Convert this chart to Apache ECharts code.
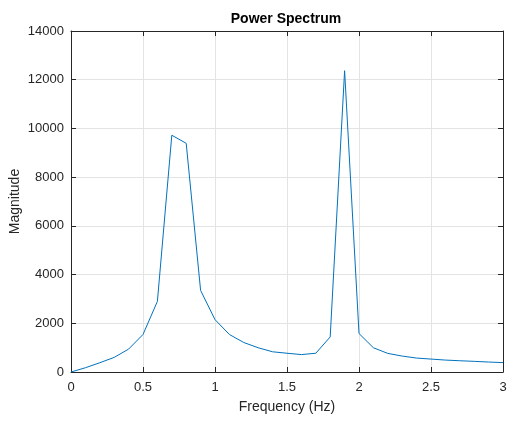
<!DOCTYPE html>
<html>
<head>
<meta charset="utf-8">
<script src="https://cdn.jsdelivr.net/npm/echarts@6/dist/echarts.min.js"></script>
<style>
html,body{margin:0;padding:0;background:#fff;}
#chart{width:531px;height:426px;}
</style>
</head>
<body>
<div id="chart"></div>
<script>
const frequency = [0, 0.1, 0.2, 0.3, 0.4, 0.5, 0.6, 0.7, 0.8, 0.9, 1.0, 1.1, 1.2, 1.3, 1.4, 1.5, 1.6, 1.7, 1.8, 1.9, 2.0, 2.1, 2.2, 2.3, 2.4, 2.5, 2.6, 2.7, 2.8, 2.9, 3.0];
const magnitude = [0, 175, 380, 600, 940, 1540, 2900, 9720, 9390, 3350, 2150, 1540, 1210, 995, 830, 770, 715, 770, 1440, 12370, 1580, 995, 764, 654, 572, 531, 490, 462, 437, 409, 385];
const xTicks = [0, 0.5, 1, 1.5, 2, 2.5, 3];
const yTicks = [0, 2000, 4000, 6000, 8000, 10000, 12000, 14000];

const FONT = "'Liberation Sans', Arial, Helvetica, sans-serif";
const AX = '#262626';
const GRID = '#e3e3e3';

const chart = echarts.init(document.getElementById('chart'), null, {renderer: 'canvas'});
const boxAxis = {
  axisLine: {show: true, onZero: false, lineStyle: {color: AX, width: 1}},
  axisTick: {show: true, inside: true, length: 5, lineStyle: {color: AX}},
  axisLabel: {show: false},
  splitLine: {show: false}
};
chart.setOption({
  animation: false,
  backgroundColor: '#fff',
  title: {
    text: 'Power Spectrum', left: 281, top: 7, textAlign: 'center',
    textStyle: {fontFamily: FONT, fontSize: 14, fontWeight: 'bold', color: '#000'}
  },
  grid: {left: 71, right: 28, top: 31, bottom: 54, containLabel: false, outerBoundsMode: 'none'},
  xAxis: [{
    type: 'value', min: xTicks[0], max: xTicks[xTicks.length - 1], interval: 0.5, position: 'bottom',
    name: 'Frequency (Hz)', nameLocation: 'middle', nameGap: 28, nameMoveOverlap: false,
    nameTextStyle: {fontFamily: FONT, fontSize: 14, color: AX},
    axisLine: {show: true, onZero: false, lineStyle: {color: AX, width: 1}},
    axisTick: {show: true, inside: true, length: 5, lineStyle: {color: AX}},
    axisLabel: {fontFamily: FONT, fontSize: 13, color: AX, margin: 9, formatter: v => String(v)},
    splitLine: {show: true, lineStyle: {color: GRID, width: 1}}
  }, Object.assign({type: 'value', min: 0, max: 3, interval: 0.5, position: 'top'}, boxAxis)],
  yAxis: [{
    type: 'value', min: yTicks[0], max: yTicks[yTicks.length - 1], interval: 2000, position: 'left',
    name: 'Magnitude', nameLocation: 'middle', nameGap: 49, nameMoveOverlap: false,
    nameTextStyle: {fontFamily: FONT, fontSize: 14, color: AX},
    axisLine: {show: true, onZero: false, lineStyle: {color: AX, width: 1}},
    axisTick: {show: true, inside: true, length: 5, lineStyle: {color: AX}},
    axisLabel: {fontFamily: FONT, fontSize: 13, color: AX, margin: 7, formatter: v => String(v)},
    splitLine: {show: true, lineStyle: {color: GRID, width: 1}}
  }, Object.assign({type: 'value', min: 0, max: 14000, interval: 2000, position: 'right'}, boxAxis)],
  series: [{
    type: 'line',
    data: frequency.map((f, i) => [f, magnitude[i]]),
    showSymbol: false,
    lineStyle: {color: '#0072BD', width: 1},
    itemStyle: {color: '#0072BD'}
  }]
});
</script>
</body>
</html>
